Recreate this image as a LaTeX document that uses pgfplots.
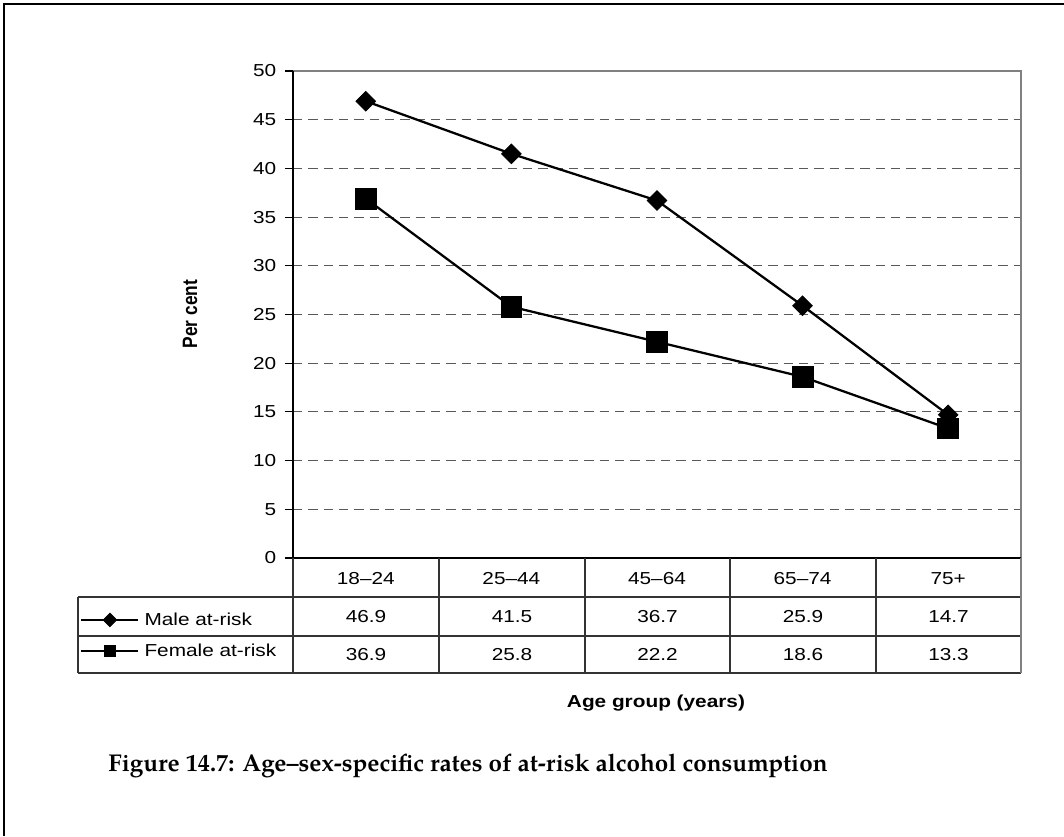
\documentclass[border=0pt]{standalone}
\usepackage{fontspec}
\setmainfont{Liberation Sans}[FakeStretch=1.2]
\newfontfamily\uprightsans{Liberation Sans}
\newfontfamily\captionfont{TeX Gyre Pagella}
\usepackage{graphicx}
\usepackage{pgfplots}
\usepackage{pgfplotstable}
\pgfplotsset{compat=1.18}

% At-risk alcohol consumption by age group (per cent)
\pgfplotstableread{
x male female
0 46.9 36.9
1 41.5 25.8
2 36.7 22.2
3 25.9 18.6
4 14.7 13.3
}\rates

\newcommand{\chartfont}{\fontsize{13}{15}\selectfont}

\begin{document}
\begin{tikzpicture}[x=0.75pt,y=-0.75pt]
\useasboundingbox (0,0) rectangle (1064,836);

% page frame
\draw[line width=1.5pt] (4,836) -- (4,4) -- (1064,4);

\begin{axis}[
  at={(219.75pt,-418.5pt)}, anchor=south west,
  scale only axis, width=546pt, height=365.25pt,
  xmin=-0.5, xmax=4.5, ymin=0, ymax=50,
  clip=false,
  axis line style={draw=none},
  xtick={0,...,4},
  xticklabels={18–24,25–44,45–64,65–74,75+},
  x tick style={draw=none},
  x tick label style={anchor=center, yshift=-9.4pt, font=\chartfont},
  ytick={0,5,...,50},
  ytick pos=left,
  tick align=outside,
  major tick length=6pt,
  y tick style={black, line width=0.8pt},
  y tick label style={font=\chartfont, xshift=-3pt},
  /pgf/number format/assume math mode=true,
  ymajorgrids,
  major grid style={dash pattern=on 7pt off 4.5pt, black!65, line width=0.8pt},
  ylabel={\scalebox{1}[1.2]{\uprightsans\bfseries Per cent}},
  ylabel style={at={(axis description cs:-0.1415,0.501)}, anchor=center, font=\chartfont},
  xlabel={\bfseries Age group (years)},
  xlabel style={at={(axis description cs:0.4986,-0.2977)}, anchor=center, font=\chartfont},
  legend style={at={(axis description cs:-0.2926,-0.1591)}, anchor=west,
    draw=none, fill=none, inner sep=0pt, row sep=12.4pt, column sep=3.75pt,
    nodes={inner sep=0pt, anchor=west}, font=\chartfont},
  legend cell align=left,
  legend image code/.code={%
    \draw[mark repeat=2, mark phase=2, #1]
      plot coordinates {(0pt,0pt) (21.4pt,0pt) (42.75pt,0pt)};},
]
\addplot[black, line width=1.7pt, mark=square*,
  mark size=5.2pt, mark options={rotate=45, solid, line width=0.6pt},
  legend image post style={mark size=3.6pt}]
  table[x=x, y=male] {\rates};
\addlegendentry{Male at-risk}
\addplot[black, line width=1.7pt, mark=square*,
  mark size=7.8pt, mark options={solid, line width=0.6pt},
  legend image post style={mark size=4.2pt}]
  table[x=x, y=female] {\rates};
\addlegendentry{Female at-risk}

% plot area border
\draw[black!50, line width=1pt] (rel axis cs:0,1) -- (rel axis cs:1,1) -- (rel axis cs:1,0);
\draw[black, line width=1pt] (rel axis cs:0,1) -- (rel axis cs:0,0) -- (rel axis cs:1,0);
\end{axis}

% data table grid
\begin{scope}[line width=0.9pt, black!80]
  \draw (78,597) -- (1021,597);
  \draw (78,636) -- (1021,636);
  \draw (78,673) -- (1021,673);
  \draw (78,597) -- (78,673);
  \draw (293,558) -- (293,673);
  \foreach \c in {439,585,730,876} \draw (\c,558) -- (\c,673);
  \draw[black!50] (1021,558) -- (1021,673);
\end{scope}

% data table values
\begin{scope}[font=\chartfont]
  \foreach \xc/\v in {366/46.9, 512/41.5, 657.5/36.7, 803/25.9, 948.5/14.7}
    \node[anchor=center] at (\xc,616.5) {\v};
  \foreach \xc/\v in {366/36.9, 512/25.8, 657.5/22.2, 803/18.6, 948.5/13.3}
    \node[anchor=center] at (\xc,654.5) {\v};
\end{scope}

% caption
\node[anchor=base west, inner sep=0pt, font=\captionfont\bfseries\fontsize{18.2}{22}\selectfont]
  at (108,771) {Figure 14.7: Age–sex-specific rates of at-risk alcohol consumption};
\end{tikzpicture}
\end{document}
